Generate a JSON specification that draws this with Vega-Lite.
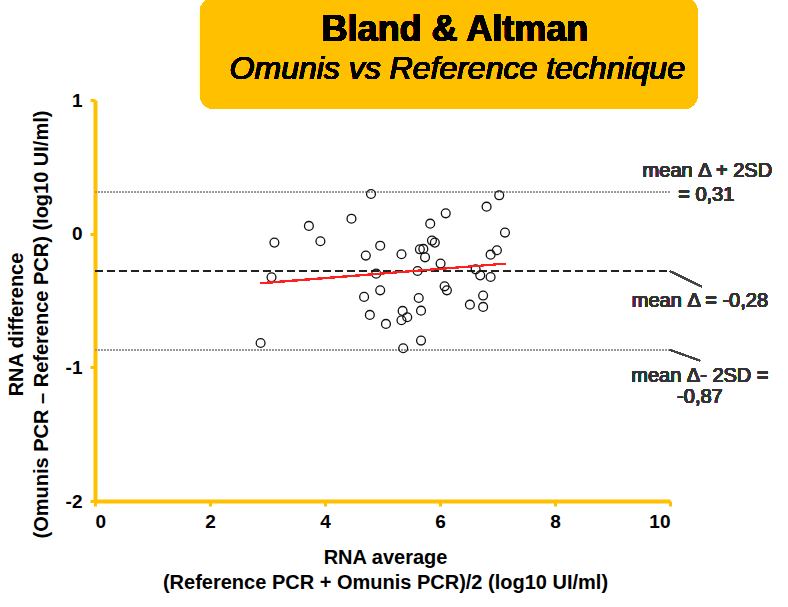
{
  "$schema": "https://vega.github.io/schema/vega-lite/v6.json",
  "autosize": "none",
  "width": 575,
  "height": 401,
  "padding": {"left": 95, "top": 100, "right": 118, "bottom": 106},
  "background": "white",
  "config": {
    "view": {"stroke": null},
    "font": "Liberation Sans",
    "axis": {
      "grid": false,
      "domainColor": "#FFC000",
      "domainWidth": 4,
      "tickColor": "#FFC000",
      "tickWidth": 3,
      "tickSize": 5,
      "labelFont": "Liberation Sans",
      "labelFontWeight": "bold",
      "labelFontSize": 19,
      "labelColor": "#000000",
      "titleFont": "Liberation Sans",
      "titleFontWeight": "bold",
      "titleFontSize": 20,
      "titleColor": "#000000",
      "titleLineHeight": 25
    }
  },
  "data": {
    "values": [
      {"m": 2.88, "d": -0.818},
      {"m": 3.07, "d": -0.326},
      {"m": 3.12, "d": -0.067},
      {"m": 3.72, "d": 0.058},
      {"m": 3.92, "d": -0.057},
      {"m": 4.46, "d": 0.112},
      {"m": 4.80, "d": 0.297},
      {"m": 4.71, "d": -0.164},
      {"m": 4.96, "d": -0.09},
      {"m": 4.89, "d": -0.299},
      {"m": 4.68, "d": -0.473},
      {"m": 4.96, "d": -0.424},
      {"m": 4.78, "d": -0.608},
      {"m": 5.06, "d": -0.675},
      {"m": 5.33, "d": -0.154},
      {"m": 5.35, "d": -0.578},
      {"m": 5.33, "d": -0.648},
      {"m": 5.43, "d": -0.625},
      {"m": 5.36, "d": -0.857},
      {"m": 5.61, "d": -0.279},
      {"m": 5.63, "d": -0.481},
      {"m": 5.67, "d": -0.576},
      {"m": 5.67, "d": -0.80},
      {"m": 5.65, "d": -0.117},
      {"m": 5.71, "d": -0.114},
      {"m": 5.74, "d": -0.177},
      {"m": 5.83, "d": 0.075},
      {"m": 5.86, "d": -0.052},
      {"m": 5.91, "d": -0.067},
      {"m": 6.01, "d": -0.224},
      {"m": 6.08, "d": -0.394},
      {"m": 6.12, "d": -0.424},
      {"m": 6.10, "d": 0.152},
      {"m": 6.52, "d": -0.531},
      {"m": 6.62, "d": -0.267},
      {"m": 6.70, "d": -0.312},
      {"m": 6.75, "d": -0.463},
      {"m": 6.75, "d": -0.548},
      {"m": 6.81, "d": 0.202},
      {"m": 6.88, "d": -0.324},
      {"m": 6.88, "d": -0.157},
      {"m": 6.99, "d": -0.124},
      {"m": 7.03, "d": 0.287},
      {"m": 7.13, "d": 0.008}
    ]
  },
  "layer": [
    {
      "mark": {"type": "rect", "color": "#FFC000", "cornerRadius": 14},
      "encoding": {
        "x": {"datum": 1.826, "type": "quantitative"},
        "x2": {"datum": 10.48},
        "y": {"datum": 1.763, "type": "quantitative"},
        "y2": {"datum": 0.933}
      }
    },
    {
      "mark": {"type": "text", "text": "Bland & Altman", "font": "Liberation Sans", "fontWeight": "bold", "fontSize": 36, "color": "#000000", "align": "center", "baseline": "middle"},
      "encoding": {
        "x": {"datum": 6.26, "type": "quantitative"},
        "y": {"datum": 1.524, "type": "quantitative"}
      }
    },
    {
      "mark": {"type": "text", "text": "Omunis vs Reference technique", "font": "Liberation Sans", "fontStyle": "italic", "fontWeight": "normal", "fontSize": 32, "color": "#000000", "align": "center", "baseline": "middle"},
      "encoding": {
        "x": {"datum": 6.30, "type": "quantitative"},
        "y": {"datum": 1.232, "type": "quantitative"}
      }
    },
    {
      "mark": {"type": "rule", "color": "#999999", "strokeWidth": 1, "strokeDash": [2, 1]},
      "encoding": {
        "x": {"datum": 0, "type": "quantitative"},
        "x2": {"datum": 10},
        "y": {"datum": 0.31, "type": "quantitative"}
      }
    },
    {
      "mark": {"type": "rule", "color": "#999999", "strokeWidth": 1, "strokeDash": [2, 1]},
      "encoding": {
        "x": {"datum": 0, "type": "quantitative"},
        "x2": {"datum": 10},
        "y": {"datum": -0.87, "type": "quantitative"}
      }
    },
    {
      "mark": {"type": "rule", "color": "#222222", "strokeWidth": 1.3, "strokeDash": [8, 4]},
      "encoding": {
        "x": {"datum": 0, "type": "quantitative"},
        "x2": {"datum": 10},
        "y": {"datum": -0.28, "type": "quantitative"}
      }
    },
    {
      "mark": {"type": "rule", "color": "#444444", "strokeWidth": 1.3},
      "encoding": {
        "x": {"datum": 10, "type": "quantitative"},
        "x2": {"datum": 10.55},
        "y": {"datum": -0.28, "type": "quantitative"},
        "y2": {"datum": -0.396}
      }
    },
    {
      "mark": {"type": "rule", "color": "#444444", "strokeWidth": 1.3},
      "encoding": {
        "x": {"datum": 10, "type": "quantitative"},
        "x2": {"datum": 10.52},
        "y": {"datum": -0.87, "type": "quantitative"},
        "y2": {"datum": -0.95}
      }
    },
    {
      "mark": {"type": "circle", "filled": false, "stroke": "#111111", "strokeWidth": 1.3, "size": 78, "opacity": 1},
      "encoding": {
        "x": {
          "field": "m", "type": "quantitative",
          "scale": {"domain": [0, 10], "nice": false, "zero": false},
          "axis": {
            "values": [0, 2, 4, 6, 8, 10],
            "labelExpr": "'' + datum.value",
            "labelPadding": 6,
            "title": ["RNA average", "(Reference PCR + Omunis PCR)/2  (log10 UI/ml)"],
            "titleX": 290,
            "titleY": 56,
            "titleAnchor": "middle",
            "titleAlign": "center",
            "titleBaseline": "middle"
          }
        },
        "y": {
          "field": "d", "type": "quantitative",
          "scale": {"domain": [-2, 1], "nice": false, "zero": false},
          "axis": {
            "values": [-2, -1, 0, 1],
            "labelExpr": "'' + datum.value",
            "labelPadding": 8,
            "title": ["RNA difference", "(Omunis PCR \u2013 Reference PCR)  (log10 UI/ml)"],
            "titleAngle": -90,
            "titleX": -79,
            "titleY": 224,
            "titleAlign": "center",
            "titleBaseline": "middle"
          }
        }
      }
    },
    {
      "mark": {"type": "rule", "color": "#FF2020", "strokeWidth": 1.4},
      "encoding": {
        "x": {"datum": 2.88, "type": "quantitative"},
        "x2": {"datum": 7.14},
        "y": {"datum": -0.371, "type": "quantitative"},
        "y2": {"datum": -0.224}
      }
    },
    {
      "mark": {"type": "text", "text": "mean \u0394 + 2SD", "font": "Liberation Sans", "fontSize": 20, "fontWeight": 400, "color": "#333333", "align": "center", "baseline": "middle"},
      "encoding": {
        "x": {"datum": 10.65, "type": "quantitative"},
        "y": {"datum": 0.468, "type": "quantitative"}
      }
    },
    {
      "mark": {"type": "text", "text": "= 0,31", "font": "Liberation Sans", "fontSize": 20, "fontWeight": 400, "color": "#333333", "align": "center", "baseline": "middle"},
      "encoding": {
        "x": {"datum": 10.63, "type": "quantitative"},
        "y": {"datum": 0.288, "type": "quantitative"}
      }
    },
    {
      "mark": {"type": "text", "text": "mean \u0394 = -0,28", "font": "Liberation Sans", "fontSize": 20, "fontWeight": 400, "color": "#333333", "align": "center", "baseline": "middle"},
      "encoding": {
        "x": {"datum": 10.52, "type": "quantitative"},
        "y": {"datum": -0.504, "type": "quantitative"}
      }
    },
    {
      "mark": {"type": "text", "text": "mean \u0394- 2SD =", "font": "Liberation Sans", "fontSize": 20, "fontWeight": 400, "color": "#333333", "align": "center", "baseline": "middle"},
      "encoding": {
        "x": {"datum": 10.52, "type": "quantitative"},
        "y": {"datum": -1.065, "type": "quantitative"}
      }
    },
    {
      "mark": {"type": "text", "text": "-0,87", "font": "Liberation Sans", "fontSize": 20, "fontWeight": 400, "color": "#333333", "align": "center", "baseline": "middle"},
      "encoding": {
        "x": {"datum": 10.52, "type": "quantitative"},
        "y": {"datum": -1.222, "type": "quantitative"}
      }
    }
  ]
}
